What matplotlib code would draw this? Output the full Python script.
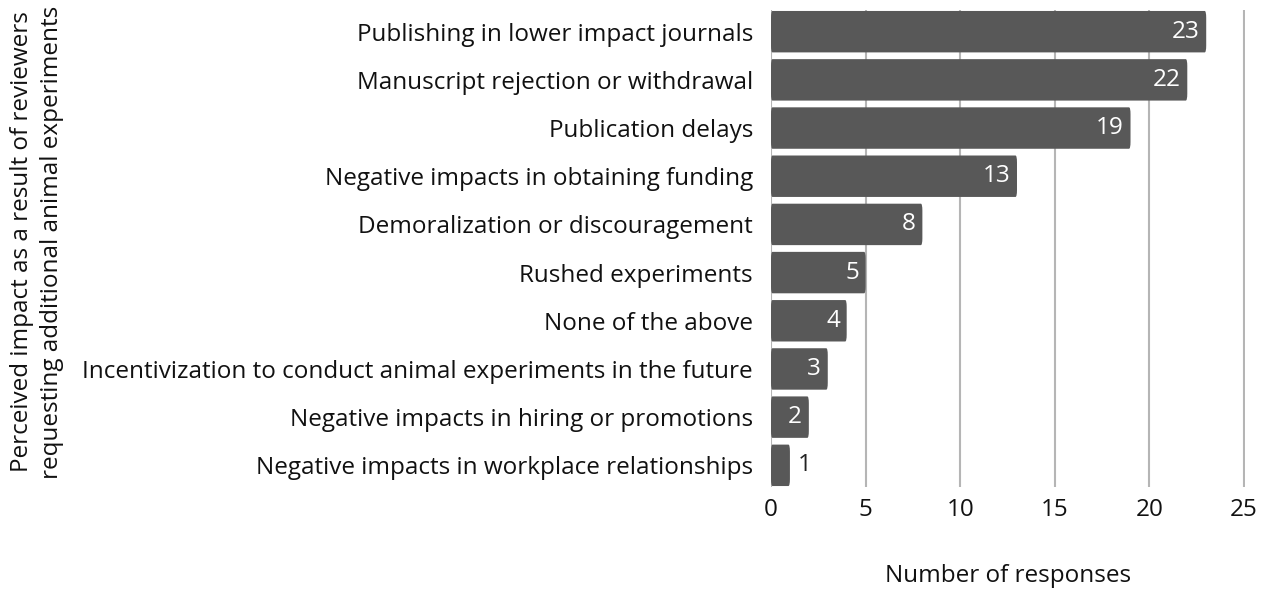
import matplotlib
matplotlib.use("Agg")
import matplotlib.pyplot as plt
from matplotlib.patches import FancyBboxPatch

plt.rcParams.update({
    "font.family": ["Open Sans", "DejaVu Sans"],
    "font.size": 17.5,
})

categories = [
    "Publishing in lower impact journals",
    "Manuscript rejection or withdrawal",
    "Publication delays",
    "Negative impacts in obtaining funding",
    "Demoralization or discouragement",
    "Rushed experiments",
    "None of the above",
    "Incentivization to conduct animal experiments in the future",
    "Negative impacts in hiring or promotions",
    "Negative impacts in workplace relationships",
]
responses = [23, 22, 19, 13, 8, 5, 4, 3, 2, 1]
xticks = [0, 5, 10, 15, 20, 25]

BAR_COLOR = "#585858"
FS = 17.5

fig = plt.figure(figsize=(12.77, 6), dpi=100)
ax = fig.add_axes([771 / 1277, 1 - 487 / 600, (1245 - 771) / 1277, 477 / 600])

ypos = list(range(len(categories)))
bars = ax.barh(ypos, responses, height=0.86, color=BAR_COLOR, zorder=3)

# rounded corners on the bars
for bar in bars:
    x, y = bar.get_x(), bar.get_y()
    w, h = bar.get_width(), bar.get_height()
    bar.set_visible(False)
    ax.add_patch(FancyBboxPatch((x, y), w, h,
                                boxstyle="round,pad=0,rounding_size=0.08",
                                mutation_aspect=1.8,
                                facecolor=BAR_COLOR, edgecolor="none", zorder=3))

for yp, val in zip(ypos, responses):
    if val >= 2:
        ax.text(val - 0.35, yp, str(val), ha="right", va="center",
                color="white", fontsize=FS, zorder=4)
    else:
        ax.text(val + 0.4, yp, str(val), ha="left", va="center",
                color="#222222", fontsize=FS, zorder=4)

ax.set_xlim(0, 25.05)
ax.set_ylim(len(categories) - 0.55, -0.45)
ax.set_xticks(xticks)
ax.set_yticks(ypos)
ax.set_yticklabels(categories)
ax.tick_params(axis="both", length=0, labelsize=FS, colors="#111111")
ax.tick_params(axis="y", pad=13)
ax.tick_params(axis="x", pad=8)
ax.grid(axis="x", color="#b5b5b5", lw=1.5, zorder=0)
for s in ax.spines.values():
    s.set_visible(False)

ax.set_xlabel("Number of responses", fontsize=FS, labelpad=30, color="#111111")
fig.text(37 / 1277, 1 - 242 / 600,
         "Perceived impact as a result of reviewers\nrequesting additional animal experiments",
         rotation=90, ha="center", va="center", fontsize=FS,
         linespacing=1.35, color="#111111")

fig.savefig("out.png", dpi=100)
